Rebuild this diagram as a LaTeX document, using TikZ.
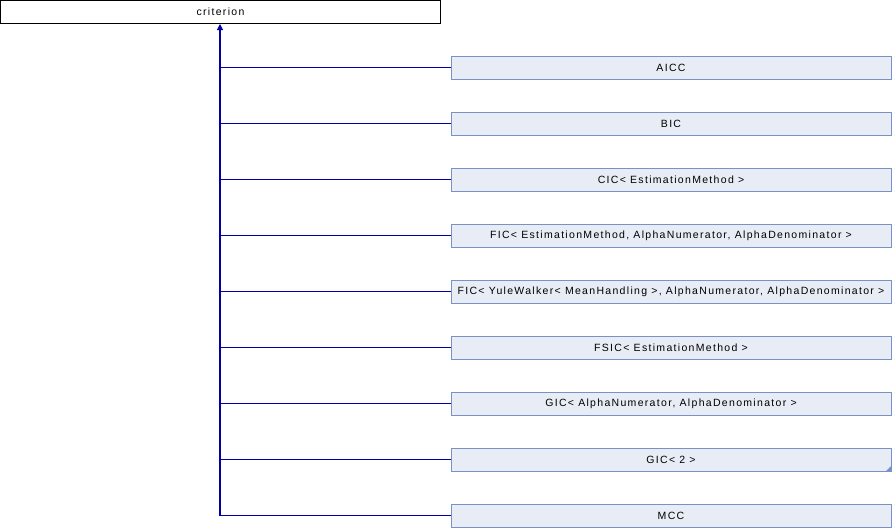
\documentclass[tikz,border=0pt]{standalone}
\usepackage{fontspec}
\setmainfont{Liberation Sans}
\newfontfamily\doxfont[LetterSpace=12.5]{Liberation Sans}
\usetikzlibrary{arrows.meta}
\definecolor{edgeblue}{RGB}{0,0,165}
\definecolor{boxfill}{RGB}{232,236,245}
\definecolor{boxline}{RGB}{122,144,200}
\tikzset{
  x=1pt, y=-1pt,
  base/.style={draw=black, fill=white, line width=1pt, minimum width=440pt, minimum height=23pt,
    inner sep=0pt, font=\doxfont\fontsize{10.5}{12}\selectfont},
  derived/.style={draw=boxline, fill=boxfill, line width=1pt, minimum width=440pt, minimum height=23pt,
    inner sep=0pt, font=\doxfont\fontsize{10.5}{12}\selectfont},
  link/.style={draw=edgeblue, line width=1.1pt},
}
\begin{document}
\begin{tikzpicture}
\useasboundingbox (0,0) rectangle (892,528);
\node[base] (crit) at (220.5,12) {criterion};
\foreach \name/\label [count=\i from 0] in {
  aicc/AICC,
  bic/BIC,
  cic/{CIC< EstimationMethod >},
  fic/{FIC< EstimationMethod, AlphaNumerator, AlphaDenominator >},
  ficyw/{FIC< YuleWalker< MeanHandling >, AlphaNumerator, AlphaDenominator >},
  fsic/{FSIC< EstimationMethod >},
  gic/{GIC< AlphaNumerator, AlphaDenominator >},
  gictwo/{GIC< 2 >},
  mcc/MCC} {
  \node[derived] (\name) at (671,67.5+56*\i) {\label};
  \coordinate (j\name) at (220,67.5+56*\i);
  \draw[link] (\name.west) -- (j\name);
}
% marker for a class with hidden members
\fill[boxline] (gictwo.south east) -- ++(0,-6) -- ++(-6,6) -- cycle;
% trunk up to the base class
\draw[link, -{Triangle[width=6pt,length=6pt]}] (jmcc) -- (crit.south -| jmcc);
\end{tikzpicture}
\end{document}
